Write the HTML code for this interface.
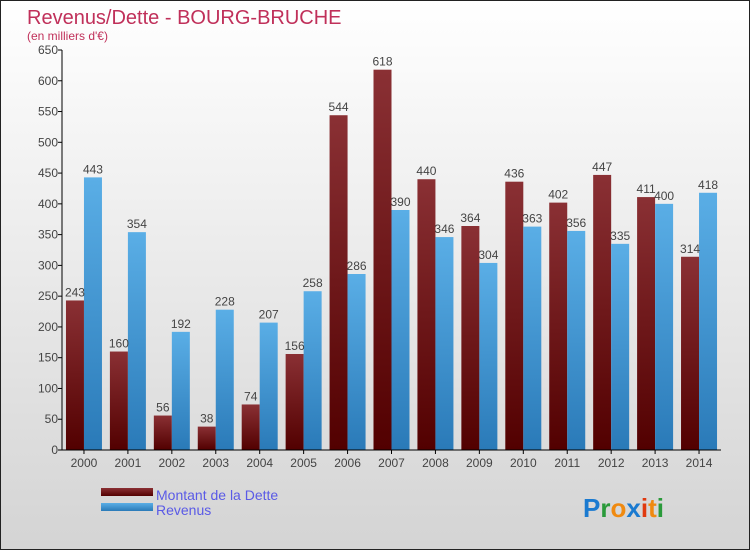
<!DOCTYPE html>
<html><head><meta charset="utf-8"><style>
body{margin:0;width:750px;height:550px;overflow:hidden;font-family:"Liberation Sans",sans-serif}
#c{width:748px;height:548px;border:1px solid #222;background:linear-gradient(#fff,#d4d4d4)}
</style></head><body>
<div id="c">
<svg id="s" width="748" height="548" xmlns="http://www.w3.org/2000/svg">
<defs>
<linearGradient id="gd" x1="0" y1="0" x2="0" y2="1"><stop offset="0" stop-color="#8a3034"/><stop offset="1" stop-color="#520000"/></linearGradient>
<linearGradient id="gr" x1="0" y1="0" x2="0" y2="1"><stop offset="0" stop-color="#5aaee6"/><stop offset="1" stop-color="#2a7ab8"/></linearGradient>
</defs>
<text x="26" y="23" font-size="20" fill="#c0305a">Revenus/Dette - BOURG-BRUCHE</text>
<text x="26" y="39" font-size="12" fill="#c0305a">(en milliers d'€)</text>
<g id="g"></g>
<rect x="100" y="487" width="52" height="8" fill="url(#gd)"/>
<rect x="100" y="502" width="52" height="8" fill="url(#gr)"/>
<text x="155" y="499" font-size="14" fill="#5a5ae6">Montant de la Dette</text>
<text x="155" y="514" font-size="14" fill="#5a5ae6">Revenus</text>
<text x="582" y="516" font-size="26" font-weight="bold"><tspan fill="#1a7ad0">P</tspan><tspan fill="#2a9a3a">r</tspan><tspan fill="#f08a10">o</tspan><tspan fill="#1a7ad0">x</tspan><tspan fill="#e03a10">i</tspan><tspan fill="#f08a10">t</tspan><tspan fill="#2a9a3a">i</tspan></text>
</svg></div>
<script>
const years=["2000","2001","2002","2003","2004","2005","2006","2007","2008","2009","2010","2011","2012","2013","2014"];
const dette=[243,160,56,38,74,156,544,618,440,364,436,402,447,411,314];
const revenus=[443,354,192,228,207,258,286,390,346,304,363,356,335,400,418];
const ticks=[0,50,100,150,200,250,300,350,400,450,500,550,600,650];
const NS="http://www.w3.org/2000/svg",g=document.getElementById('g');
const x0=61,x1=720,y0=449,k=400/650,step=(x1-x0)/years.length,bw=18;
const Y=v=>y0-v*k;
function el(t,a){const e=document.createElementNS(NS,t);for(const n in a)e.setAttribute(n,a[n]);g.appendChild(e);return e;}
ticks.forEach(t=>{const y=Y(t);
const l=el('line',{x1:x0-4,x2:x0,y1:y,y2:y,stroke:'#000'});


const tx=el('text',{x:x0-4,y:y+4,'font-size':12,'text-anchor':'end',fill:'#444'});tx.textContent=t;

});
years.forEach((yr,i)=>{const c=x0+step*(i+0.5);
const b1=el('rect',{x:c-bw,y:Y(dette[i]),width:bw,height:dette[i]*k,fill:'url(#gd)'});


const b2=el('rect',{x:c,y:Y(revenus[i]),width:bw,height:revenus[i]*k,fill:'url(#gr)'});


const t1=el('text',{x:c-bw/2,y:Y(dette[i])-4,'font-size':12,'text-anchor':'middle',fill:'#444'});t1.textContent=dette[i];


const t2=el('text',{x:c+bw/2,y:Y(revenus[i])-4,'font-size':12,'text-anchor':'middle',fill:'#444'});t2.textContent=revenus[i];


const tk=el('line',{x1:c,x2:c,y1:y0,y2:y0+4,stroke:'#000'});


const xl=el('text',{x:c,y:y0+17,'font-size':12,'text-anchor':'middle',fill:'#444'});xl.textContent=yr;

});
const ax=el('line',{x1:x0,x2:x0,y1:Y(650),y2:y0,stroke:'#000'});


const axx=el('line',{x1:x0,x2:x1,y1:y0,y2:y0,stroke:'#000'});


</script></body></html>
